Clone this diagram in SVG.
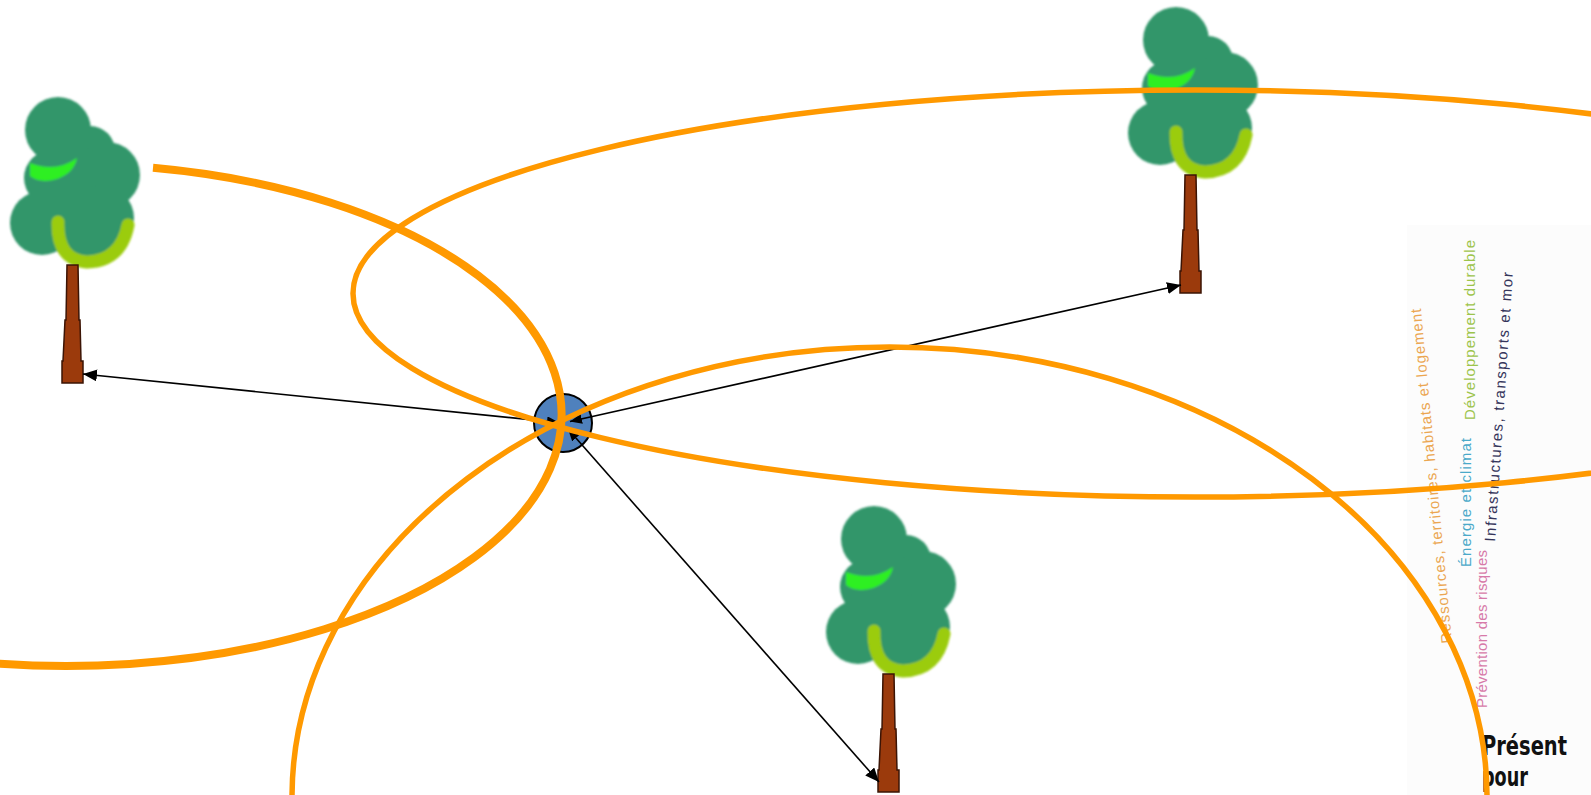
<svg xmlns="http://www.w3.org/2000/svg" xmlns:xlink="http://www.w3.org/1999/xlink" width="1591" height="795" viewBox="0 0 1591 795">
  <style>
    .ring { fill: none; stroke: #ff9900; }
    .ring-thin { stroke-width: 5.5; }
    .ring-thick { stroke-width: 8; }
    .link { fill: none; stroke: #000; stroke-width: 1.6; marker-end: url(#head); marker-start: url(#head-start); }
    .hub { fill: #4f81bd; stroke: #000; stroke-width: 2; }
    .theme { font-family: "Liberation Sans", Arial, sans-serif; font-size: 15px; }
    .title { font-family: "Liberation Sans Narrow", "DejaVu Sans Condensed", "Liberation Sans", sans-serif; font-weight: bold; font-size: 26px; fill: #111; }
  </style>
  <defs>
    <marker id="head" viewBox="0 0 14 12" refX="14" refY="6" markerWidth="14" markerHeight="12" markerUnits="userSpaceOnUse" orient="auto">
      <path d="M0,0 L14,6 L0,12 Z" fill="#000"/>
    </marker>
    <marker id="head-start" viewBox="0 0 12 10" refX="12" refY="5" markerWidth="12" markerHeight="10" markerUnits="userSpaceOnUse" orient="auto-start-reverse">
      <path d="M0,0 L12,5 L0,10 Z" fill="#000"/>
    </marker>
    <filter id="soft" x="-10%" y="-10%" width="120%" height="120%">
      <feGaussianBlur stdDeviation="0.9"/>
    </filter>
    <!-- tree drawn with its trunk's bottom-left corner at the origin -->
    <g id="tree">
      <g filter="url(#soft)">
        <g fill="#33966a">
          <circle cx="-4" cy="-253" r="33"/>
          <circle cx="28" cy="-232" r="25"/>
          <circle cx="45" cy="-208" r="33"/>
          <circle cx="-10" cy="-205" r="28"/>
          <circle cx="15" cy="-195" r="40"/>
          <circle cx="-20" cy="-160" r="32"/>
          <circle cx="25" cy="-158" r="40"/>
          <circle cx="40" cy="-165" r="32"/>
        </g>
        <path d="M-32,-220 Q-6,-210 15,-225 Q12,-210 -5,-204 Q-22,-199 -32,-207 Z" fill="#2eef22"/>
        <path d="M-4,-161 Q-5,-123 25,-121 Q59,-122 66,-158" fill="none" stroke="#9bcc0c" stroke-width="13" stroke-linecap="round"/>
      </g>
      <polygon points="5,-118 16,-118 17,-63 18,-63 19,-22 21,-22 21,0 0,0 0,-22 1,-22 3,-63 4,-63" fill="#9b3a0c" stroke="#3b1405" stroke-width="1.5"/>
    </g>
  </defs>

  <rect width="1591" height="795" fill="#fff"/>

  <!-- legend panel with themes -->
  <g id="themes">
    <rect x="1407" y="225" width="184" height="570" fill="#fcfcfc"/>
    <text class="theme" fill="#eba651" transform="translate(1452,643) rotate(-95.3)" textLength="336" lengthAdjust="spacing">Ressources, territoires, habitats et logement</text>
    <text class="theme" fill="#4aa9c9" transform="translate(1471,567) rotate(-90)" textLength="129" lengthAdjust="spacing">Énergie et climat</text>
    <text class="theme" fill="#9cc44b" transform="translate(1475,420) rotate(-90)" textLength="180" lengthAdjust="spacing">Développement durable</text>
    <text class="theme" fill="#d77aa9" transform="translate(1487,708) rotate(-90)" textLength="158" lengthAdjust="spacing">Prévention des risques</text>
    <text class="theme" fill="#35355b" transform="translate(1495,542) rotate(-86.2)" textLength="270" lengthAdjust="spacing">Infrastructures, transports et mor</text>
    <text class="title" x="1482" y="755" textLength="85" lengthAdjust="spacingAndGlyphs">Présent</text>
    <text class="title" x="1482" y="786" textLength="46" lengthAdjust="spacingAndGlyphs">pour</text>
  </g>

  <g id="tree-west">
    <rect x="0" y="85" width="153" height="305" fill="#fff"/>
    <use xlink:href="#tree" href="#tree" transform="translate(62,383)"/>
  </g>
  <g id="tree-northeast">
    <use xlink:href="#tree" href="#tree" transform="translate(1180,293)"/>
  </g>
  <g id="tree-south">
    <use xlink:href="#tree" href="#tree" transform="translate(878,792)"/>
  </g>

  <g id="hub">
    <circle class="hub" cx="563" cy="423" r="29"/>
  </g>

  <g id="connectors">
    <line class="link" x1="559" y1="422.6" x2="83" y2="374"/>
    <line class="link" x1="570" y1="421.5" x2="1181" y2="285"/>
    <line class="link" x1="568" y1="429" x2="879" y2="782"/>
  </g>

  <!-- influence zones -->
  <g id="zones">
    <path class="ring ring-thick" d="M153,167.8 A495,251 0 1 1 -60,657.6"/>
    <ellipse class="ring ring-thin" cx="1195" cy="293.5" rx="842" ry="203.5"/>
    <ellipse class="ring ring-thin" cx="889.5" cy="797" rx="597.5" ry="450"/>
  </g>
</svg>
